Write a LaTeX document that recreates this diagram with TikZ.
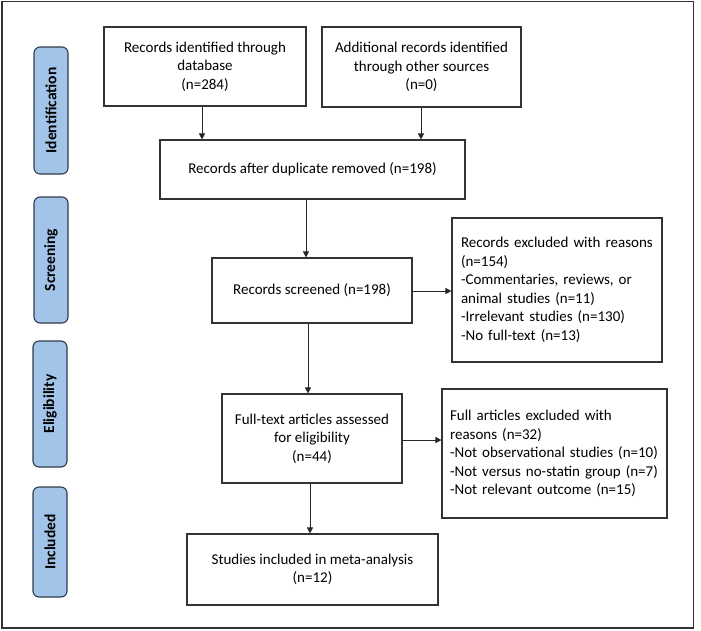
\documentclass[tikz,border=0pt]{standalone}
\usepackage{fontspec}
\setmainfont{Carlito}
\usetikzlibrary{arrows.meta}
\definecolor{labfill}{HTML}{A2C4E9}
\definecolor{labdraw}{HTML}{2E3B48}
\definecolor{boxdraw}{HTML}{333333}
\begin{document}
\begin{tikzpicture}[x=1pt,y=-1pt,
  box/.style={draw=boxdraw,line width=1.1pt,inner sep=0pt,font=\fontsize{15}{18.5}\selectfont},
  stage/.style={draw=labdraw,fill=labfill,line width=1.1pt,rounded corners=6pt,inner sep=0pt},
  stagetext/.style={rotate=90,font=\fontsize{15.5}{16}\selectfont\bfseries},
  arr/.style={draw=black!85,line width=0.7pt,-{Triangle[width=6pt,length=6pt]}}]
\useasboundingbox (0,0) rectangle (701,630);
\draw[line width=1.2pt,draw=black!80] (2,1.5) rectangle (693.5,628);
% stage labels
\node[stage,minimum width=34pt,minimum height=127pt] (s1) at (51,110.5) {};
\node[stagetext] (t1) at (s1.center) {Identification};
\node[stage,minimum width=34pt,minimum height=126pt] (s2) at (51,260) {};
\node[stagetext] (t2) at (s2.center) {Screening};
\node[stage,minimum width=34pt,minimum height=126pt] (s3) at (50,404) {};
\node[stagetext] (t3) at (s3.center) {Eligibility};
\node[stage,minimum width=34pt,minimum height=110pt] (s4) at (50,542) {};
\node[stagetext] (t4) at (s4.center) {Included};
% boxes
\node[box,minimum width=202pt,minimum height=79pt,align=center] (b1) at (205,66.5)
  {Records identified through\\database\\(n=284)};
\node[box,minimum width=199pt,minimum height=80pt,align=center] (b2) at (421.5,67)
  {Additional records identified\\through other sources\\(n=0)};
\node[box,minimum width=305pt,minimum height=59pt,align=center] (b3) at (312.5,169.5)
  {Records after duplicate removed (n=198)};
\node[box,minimum width=200pt,minimum height=65pt,align=center] (b4) at (312,290.5)
  {Records screened (n=198)};
\node[box,minimum width=210pt,minimum height=144pt,align=left,text width=192pt] (b5) at (557,290)
  {Records excluded with reasons\\(n=154)\\-Commentaries, reviews, or\\animal studies (n=11)\\-Irrelevant studies (n=130)\\-No full-text (n=13)};
\node[box,minimum width=225pt,minimum height=129pt,align=left,text width=209pt] (b7) at (554.5,453.5)
  {Full articles excluded with\\reasons (n=32)\\-Not observational studies (n=10)\\-Not versus no-statin group (n=7)\\-Not relevant outcome (n=15)};
\node[box,minimum width=180pt,minimum height=89pt,align=center] (b6) at (312,438.5)
  {Full-text articles assessed\\for eligibility\\(n=44)};
\node[box,minimum width=251pt,minimum height=71pt,align=center] (b8) at (312.5,569.5)
  {Studies included in meta-analysis\\(n=12)};
% arrows
\draw[arr] (b1.south -| 202,0) -- (b3.north -| 202,0);
\draw[arr] (b2.south -| 421,0) -- (b3.north -| 421,0);
\draw[arr] (b3.south -| 306,0) -- (b4.north -| 306,0);
\draw[arr] (b4.east |- 0,291) -- (b5.west |- 0,291);
\draw[arr] (b4.south -| 308,0) -- (b6.north -| 308,0);
\draw[arr] (b6.east |- 0,440) -- (b7.west |- 0,440);
\draw[arr] (b6.south -| 310,0) -- (b8.north -| 310,0);
\end{tikzpicture}
\end{document}
